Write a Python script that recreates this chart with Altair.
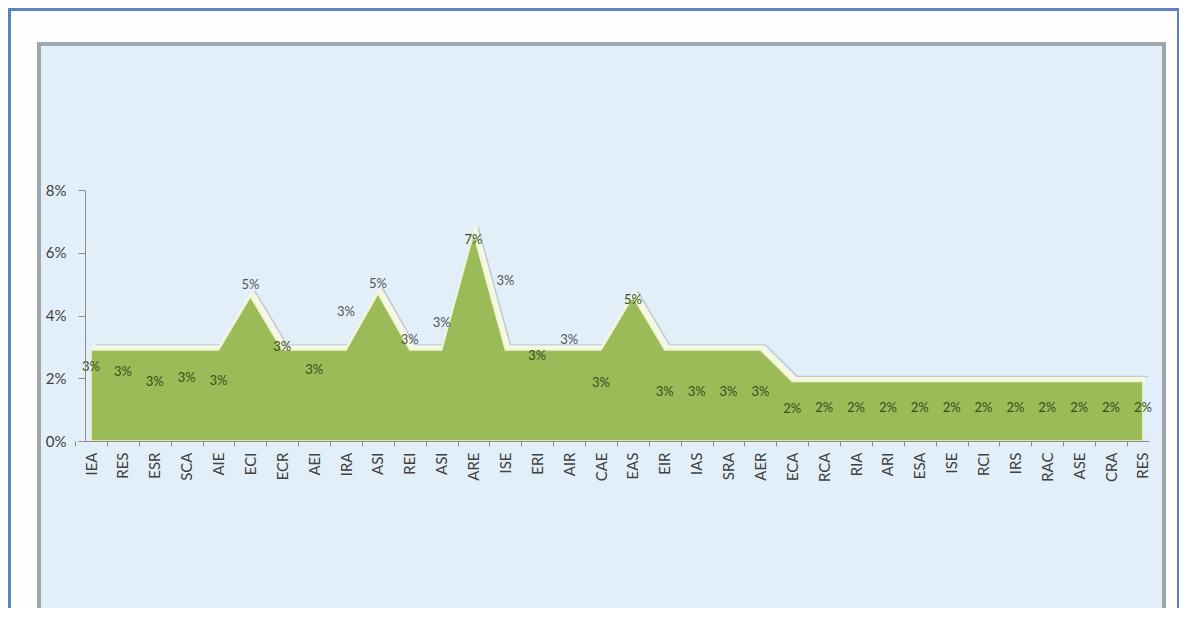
import altair as alt
import pandas as pd

# ---- data ----
categories = ["IEA", "RES", "ESR", "SCA", "AIE", "ECI", "ECR", "AEI", "IRA", "ASI",
              "REI", "ASI", "ARE", "ISE", "ERI", "AIR", "CAE", "EAS", "EIR", "IAS",
              "SRA", "AER", "ECA", "RCA", "RIA", "ARI", "ESA", "ISE", "RCI", "IRS",
              "RAC", "ASE", "CRA", "RES"]
values = [0.029, 0.029, 0.029, 0.029, 0.029, 0.046, 0.029, 0.029, 0.029, 0.047,
          0.029, 0.029, 0.066, 0.029, 0.029, 0.029, 0.029, 0.046, 0.029, 0.029,
          0.029, 0.029, 0.019, 0.019, 0.019, 0.019, 0.019, 0.019, 0.019, 0.019,
          0.019, 0.019, 0.019, 0.019]
# height (in data units) at which each data label sits in the reference
label_y = [0.0236, 0.022, 0.0188, 0.020, 0.0191, 0.0497, 0.0299, 0.0226, 0.0411, 0.050,
           0.0322, 0.0376, 0.064, 0.051, 0.027, 0.0322, 0.0185, 0.0449, 0.0156, 0.0156,
           0.0156, 0.0156, 0.0102, 0.0105, 0.0105, 0.0105, 0.0105, 0.0105, 0.0105, 0.0105,
           0.0105, 0.0105, 0.0105, 0.0105]
y_ticks = [0, 0.02, 0.04, 0.06, 0.08]

df = pd.DataFrame({"i": list(range(len(categories))), "cat": categories,
                   "value": values, "label_y": label_y})

W, H = 1064, 251
FONT = "Lato"

names_js = "[" + ",".join("'%s'" % c for c in categories) + "]"

x_enc = alt.X("i:O",
              scale=alt.Scale(type="point", padding=0.19),
              axis=alt.Axis(title=None, labelAngle=270, labelExpr=names_js + "[datum.value]",
                            labelFontSize=15, labelColor="#404040", labelFont=FONT,
                            domainColor="#8c8c8c", tickColor="#8c8c8c", tickSize=5,
                            tickOffset=-16, labelOffset=16, labelPadding=6, zindex=1))
y_scale = alt.Scale(domain=[0, 0.08])
y_enc = alt.Y("value:Q", scale=y_scale,
              axis=alt.Axis(title=None, values=y_ticks, format=".0%", grid=False,
                            labelFontSize=15, labelColor="#404040", labelFont=FONT,
                            domainColor="#8c8c8c", tickColor="#8c8c8c", tickSize=7,
                            labelPadding=12, zindex=1))

one = alt.Data(values=[{"k": 1}])

frame = alt.Chart(one).mark_rect(fill="#fdfefe", stroke="#5b84bf", strokeWidth=3).encode(
    x=alt.value(-75.5), x2=alt.value(1093.5), y=alt.value(-180.5), y2=alt.value(440))
panel = alt.Chart(one).mark_rect(fill="#e3eff8", stroke="#9ea7ae", strokeWidth=4).encode(
    x=alt.value(-46), x2=alt.value(1079), y=alt.value(-146), y2=alt.value(422))

base = alt.Chart(df)
shadow = base.mark_line(stroke="#c3cbd2", strokeWidth=1.5, xOffset=5, yOffset=-5).encode(x=x_enc, y=y_enc)
glow = base.mark_line(stroke="#f6f9e2", strokeWidth=5, xOffset=2, yOffset=-2).encode(x=x_enc, y=y_enc)
area = base.mark_area(color="#9bbb59", stroke="#eef3d4", strokeWidth=1.5).encode(x=x_enc, y=y_enc)
labels = base.mark_text(fontSize=13, font=FONT, baseline="middle").encode(
    x=x_enc,
    y=alt.Y("label_y:Q", scale=y_scale),
    text=alt.Text("value:Q", format=".0%"),
    color=alt.condition("datum.label_y > datum.value + 0.001",
                        alt.value("#4e5660"), alt.value("#33501a")))

chart = alt.layer(frame, panel, shadow, glow, area, labels).properties(
    width=W, height=H,
    autosize=alt.AutoSizeParams(type="none"),
    padding={"left": 77, "top": 182, "right": 30, "bottom": 167},
    background="white",
).configure_view(stroke=None)

chart.save("out.html", embed_options={"renderer": "svg", "actions": False})
